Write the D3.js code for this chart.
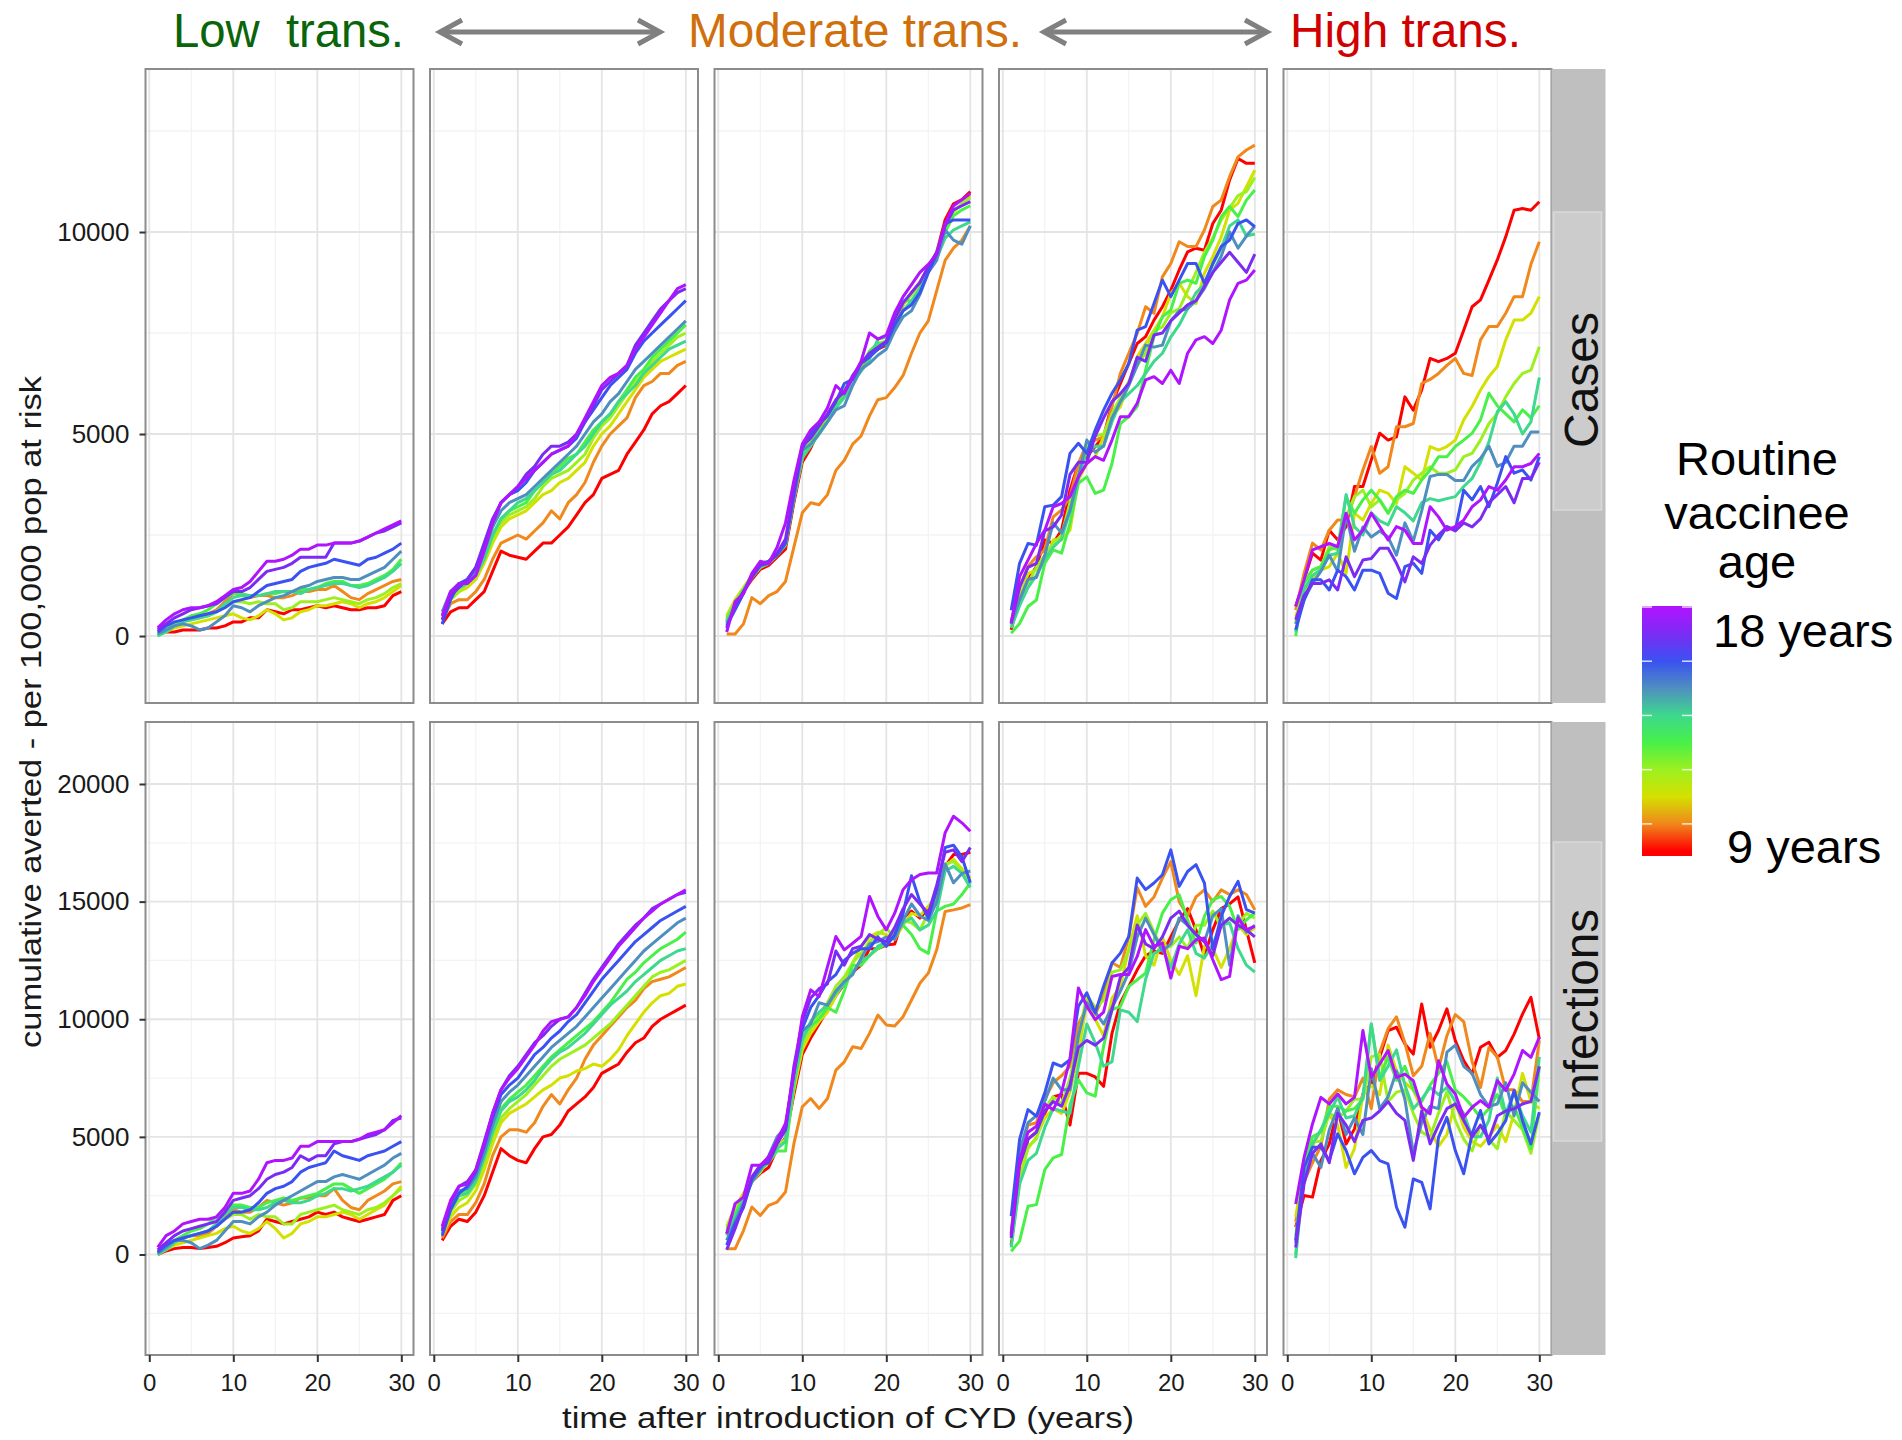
<!DOCTYPE html>
<html>
<head>
<meta charset="utf-8">
<script src="https://cdn.jsdelivr.net/npm/d3@7"></script>
<style>
  body { margin: 0; background: #fff; }
  svg { display: block; }
  text { font-family: "Liberation Sans", Arial, Helvetica, sans-serif; }
</style>
</head>
<body>
<svg id="chart" width="1902" height="1440"></svg>
<script>
// ---------------------------------------------------------------
// Cumulative cases / infections averted per 100,000 population at
// risk, by transmission setting and routine vaccinee age (9-18).
// ---------------------------------------------------------------

const years = [1,2,3,4,5,6,7,8,9,10,11,12,13,14,15,16,17,18,19,20,21,22,23,24,25,26,27,28,29,30];
const ages = [9,10,11,12,13,14,15,16,17,18];
const ageColors = ["#ff0000","#f0881c","#d4e000","#9cf020","#48f048","#3ed88e","#4f8fbf","#3a52f2","#7a2cf4","#b014ff"];
const transLabels = ["Low  trans.","Moderate trans.","High trans."];
const transColors = ["#0a640a","#d0700c","#d00000"];
const outcomes = ["Cases","Infections"];
const xTicks = [0,10,20,30];
const xMinor = [5,15,25];
const yTicksCases = [0,5000,10000];
const yMinorCases = [2500,7500,12500];
const yTicksInf = [0,5000,10000,15000,20000];
const yMinorInf = [-2500,2500,7500,12500,17500];
const legendTicks = [10,12,14,16,18];
const legendLabels = ["18 years","9 years"];

// Each panel: one series per vaccinee age (9 .. 18), one value per year.
const casesLow = [
  [50,100,100,150,150,150,200,200,250,350,350,450,450,650,600,550,650,650,700,750,700,750,700,650,650,700,700,750,1000,1100],
  [50,150,300,350,450,500,550,650,850,1050,1000,950,1000,1000,950,950,1000,1100,1100,1150,1150,1250,1100,950,900,1050,1150,1250,1350,1400],
  [50,100,200,250,300,350,400,450,500,550,450,400,500,650,550,400,450,600,650,750,750,800,850,800,700,800,850,950,1100,1250],
  [50,150,250,350,400,450,500,600,750,850,850,800,850,800,800,650,700,850,850,850,900,950,900,850,800,900,950,1050,1200,1300],
  [0,150,300,400,500,550,650,800,950,1050,1050,1000,1000,1050,1050,1100,1100,1150,1150,1200,1300,1350,1350,1250,1250,1300,1400,1500,1650,1900],
  [0,100,250,350,400,450,500,600,800,950,1000,1000,1000,1050,1100,1100,1100,1050,1150,1200,1250,1300,1300,1250,1200,1250,1350,1450,1600,1800],
  [50,150,250,300,250,150,200,350,500,750,700,600,750,850,950,1000,1100,1200,1250,1350,1400,1450,1450,1400,1400,1500,1600,1700,1900,2100],
  [100,250,350,400,450,500,550,600,700,850,900,950,1100,1250,1300,1350,1400,1600,1700,1750,1800,1900,1850,1800,1750,1900,1950,2050,2150,2300],
  [150,300,450,550,650,700,750,800,950,1100,1100,1200,1400,1600,1650,1700,1800,1950,1950,1950,1950,2300,2300,2300,2350,2450,2550,2600,2700,2800],
  [200,400,550,650,700,700,750,850,1000,1150,1200,1350,1600,1850,1850,1900,2000,2150,2150,2250,2250,2300,2300,2300,2350,2450,2550,2650,2750,2850]
];
const casesLowMod = [
  [300,600,700,700,900,1100,1600,2100,2000,1950,1900,2100,2300,2300,2500,2700,3000,3300,3500,3900,4000,4100,4500,4800,5100,5500,5700,5800,6000,6200],
  [400,800,900,900,1100,1400,1900,2300,2400,2500,2400,2600,2800,3100,2900,3300,3500,3800,4300,4700,5000,5200,5400,5900,6200,6300,6500,6500,6700,6800],
  [400,900,1100,1200,1400,1800,2300,2700,2900,3000,3100,3300,3500,3600,3800,3900,4100,4300,4700,5000,5200,5500,5800,6100,6400,6600,6800,6900,7000,7100],
  [400,900,1100,1300,1500,1900,2400,2800,3000,3100,3200,3400,3700,3900,4000,4100,4300,4500,4900,5200,5400,5700,6000,6300,6500,6800,7000,7200,7400,7500],
  [500,1000,1200,1300,1500,2000,2500,2900,3100,3200,3300,3600,3800,4000,4200,4400,4500,4800,5100,5300,5500,5800,6100,6400,6600,6900,7100,7300,7500,7700],
  [500,1000,1200,1300,1500,1900,2500,2900,3100,3300,3400,3600,3800,4000,4100,4300,4500,4700,5000,5300,5500,5800,6000,6200,6500,6700,6900,7100,7200,7300],
  [600,1100,1300,1300,1600,2100,2700,3100,3300,3400,3500,3700,3900,4100,4300,4500,4700,5000,5300,5500,5800,6000,6300,6600,6800,7000,7200,7400,7600,7800],
  [300,900,1300,1400,1700,2200,2800,3300,3500,3600,3800,4100,4300,4500,4600,4700,4900,5300,5600,5900,6200,6400,6600,7000,7300,7500,7700,7900,8100,8300],
  [400,1000,1200,1400,1700,2300,2900,3300,3500,3700,4000,4200,4500,4700,4700,4800,5000,5300,5700,6100,6300,6500,6700,7200,7500,7800,8100,8300,8500,8600],
  [500,1100,1300,1300,1500,2100,2800,3300,3500,3700,3900,4100,4300,4500,4600,4700,5000,5400,5800,6200,6400,6500,6700,7100,7400,7700,8000,8300,8600,8700]
];
const casesMod = [
  [350,700,1100,1400,1650,1750,1950,2150,3300,4300,4650,5100,5450,5700,5950,6300,6600,6950,7100,7200,7750,8200,8500,8750,9100,9500,10300,10700,10800,11000],
  [50,50,300,950,800,1000,1100,1350,2200,3050,3300,3250,3500,4100,4350,4750,4950,5450,5850,5900,6150,6450,7000,7500,7800,8550,9300,9600,9800,10150],
  [500,900,1200,1500,1700,1800,2000,2300,3400,4400,4800,5200,5400,5700,6050,6400,6700,6950,7200,7300,7850,8200,8450,8700,9100,9450,10100,10500,10700,10900],
  [450,850,1150,1450,1700,1850,2050,2250,3500,4500,4900,5250,5400,5800,6100,6350,6700,7000,7250,7300,7900,8250,8450,8750,9150,9500,10150,10500,10700,10850],
  [400,800,1150,1500,1750,1850,2000,2300,3450,4450,4750,5100,5300,5650,6050,6400,6700,7050,7250,7200,7900,8300,8300,8550,9050,9350,10000,10400,10550,10650],
  [350,750,1100,1450,1700,1800,2000,2250,3400,4400,4700,5000,5300,5650,5900,6300,6550,6850,7350,7400,7650,8050,8300,8600,9100,9350,9850,10050,10150,10250],
  [300,700,1100,1500,1800,1850,2050,2300,3400,4600,4750,5000,5300,5600,5700,6200,6600,6750,6950,7100,7550,7900,8050,8450,9000,9300,10050,9800,9700,10150],
  [250,650,1050,1500,1750,1850,2000,2300,3500,4650,5000,5250,5450,5800,6250,6350,6750,6900,7100,7250,7700,8050,8200,8500,9000,9450,10200,10300,10300,10300],
  [200,750,1100,1450,1750,1800,2050,2400,3600,4700,4900,5200,5500,5850,6050,6450,6750,7000,7150,7300,7850,8250,8500,8750,9150,9500,10150,10550,10650,10750],
  [100,850,1050,1550,1850,1800,2200,2800,3850,4750,5100,5300,5650,6200,6000,6400,6800,7500,7350,7450,8000,8400,8700,9000,9200,9450,10200,10650,10800,10950]
];
const casesModHigh = [
  [150,970,1390,1720,2380,2290,2620,3610,4270,4440,4690,4930,5760,6250,6750,7240,7410,7820,8150,8560,9060,9510,9600,9550,10210,10540,11290,11820,11700,11700],
  [310,1220,1720,1960,2130,2950,3120,3450,4270,4770,4850,4930,5680,6500,7000,7490,8150,7990,8890,9220,9760,9640,9640,10050,10630,10790,11370,11860,12030,12150],
  [310,970,1550,1630,1800,2380,2380,2620,3860,4270,4440,4930,5430,5680,6250,6910,7240,7570,7900,8480,8730,8400,8230,8980,9390,9880,10540,10710,11120,11530],
  [250,900,1300,1700,2000,2300,2500,3300,4000,4700,4950,5000,5500,5900,6300,6700,7000,7550,7650,8000,8100,8550,9000,9500,9850,10300,10600,10900,11000,11350],
  [70,310,730,890,1800,2130,2050,2790,3780,3940,3530,3610,4270,5260,5430,5680,6580,7410,7900,8070,8730,8810,8730,9390,9800,10380,10630,10380,10790,11040],
  [200,750,1200,1500,1900,2200,2400,3100,3900,4600,4700,4700,5300,5800,6000,6200,6500,6800,7000,7400,7700,8100,8500,8700,9200,9600,10150,10300,9900,9950],
  [300,900,1400,1450,2000,2800,2550,3100,3950,4850,4550,4700,5400,5800,6200,6700,7200,7150,7200,7800,8050,8100,8300,8600,9000,9400,10000,9600,9900,10150],
  [640,1800,2290,2250,3200,3240,3450,4520,4770,4520,5100,5590,6010,6340,6750,7570,7660,8230,8810,8400,8810,9220,9220,8730,9220,9640,9800,10210,10300,10130],
  [350,1200,1700,1800,2600,2700,3000,4000,4300,4300,4950,5400,5800,6000,6250,6900,6800,7450,7500,7800,8000,8200,8300,8650,9000,9250,9500,9250,9000,9450],
  [310,1470,1880,2290,2620,3200,3280,3450,3940,4270,4440,4350,4850,5430,5430,5760,6340,6420,6250,6580,6250,7000,7330,7410,7240,7570,8320,8730,8810,9060]
];
const casesHigh = [
  [730,1390,2050,1880,2620,2380,2710,3700,3700,4360,5020,4850,4930,5920,5590,6090,6870,6790,6870,7000,7570,8150,8320,8810,9310,9880,10540,10580,10540,10750],
  [640,1550,2300,2130,2620,2870,2870,3450,4110,4690,4030,4190,5180,5180,5260,6250,6350,6500,6700,6870,6500,6450,7330,7660,7660,7990,8400,8400,9200,9760],
  [480,1140,1390,1630,1720,2050,1550,3040,2870,3280,3610,3530,3280,4190,4030,3860,4690,4600,4690,4850,5350,5680,6090,6420,6670,7330,7820,7820,7990,8400],
  [310,1390,1630,1720,2210,2130,2950,3450,3610,3200,3370,3040,3370,3530,3860,4030,4190,4030,4030,4110,4440,4520,4850,5260,5510,5920,6250,6500,6580,7160],
  [0,1300,1630,1720,2130,2210,3450,3040,3370,3610,3370,3040,3450,3610,3530,3860,4110,4440,4440,4690,4850,5020,5350,6010,5700,5500,5300,5600,5400,5700],
  [100,1150,1500,1650,2000,2050,3500,2700,2500,3050,2850,2750,3200,3050,2850,3300,3400,3350,3400,3450,3700,3900,4300,4800,5550,5800,5500,5000,5300,6400],
  [300,900,1300,1600,2000,1600,3000,2100,2700,2450,2600,2450,2000,2800,2350,3100,3950,4000,4000,3850,3850,4200,4400,4700,4200,4300,4700,4700,5050,5050],
  [150,890,1390,1390,1140,1630,1470,1140,1630,1630,1550,1060,930,1720,1800,1550,2620,2380,2710,2620,3610,3370,3700,3200,3780,4440,4030,4110,3860,4440],
  [400,1000,1300,1300,1390,1140,1960,1470,1880,1920,2170,2170,1800,1340,1960,1800,2250,2500,2700,2600,2800,2700,2900,3300,3500,3700,3300,3900,3900,4300],
  [730,1390,2130,2210,2290,2210,3040,2380,2620,3040,2710,2380,2710,2620,2290,2290,3200,2950,2620,2710,2870,3200,3370,3700,3610,3860,4190,4190,4270,4520]
];
const infLow = [
  [0,150,250,300,300,250,300,350,500,700,750,800,1000,1500,1400,1300,1400,1500,1600,1800,1700,1800,1600,1500,1400,1500,1600,1700,2300,2500],
  [100,300,600,700,800,800,900,1200,1600,1900,1800,1800,2000,2300,2200,2100,2200,2400,2400,2500,2500,2800,2300,2000,1900,2300,2500,2700,3000,3100],
  [0,200,400,500,600,700,800,900,1100,1200,1000,900,1100,1400,1100,700,900,1300,1400,1600,1600,1700,1800,1700,1500,1700,1900,2100,2500,2900],
  [50,300,500,700,800,900,1000,1200,1500,1700,1700,1500,1700,1600,1600,1300,1300,1700,1800,1900,2000,2100,1900,1800,1700,1900,2000,2200,2500,2800],
  [0,300,600,800,1000,1100,1300,1600,1900,2100,2100,2000,2000,2200,2300,2400,2300,2400,2500,2600,2800,3000,3000,2800,2600,2800,3000,3200,3500,3900],
  [0,200,500,700,800,900,1000,1300,1700,2000,2000,1900,1900,2000,2200,2300,2200,2200,2300,2500,2600,2800,2800,2700,2800,2900,3100,3300,3500,3800],
  [50,300,600,600,500,250,400,600,1000,1400,1400,1300,1600,1800,2100,2300,2500,2700,2900,3100,3100,3300,3400,3300,3200,3400,3600,3800,4100,4300],
  [100,400,600,700,800,900,1000,1200,1500,1800,1800,1900,2200,2600,2800,2900,3100,3500,3700,3800,3900,4400,4200,4100,4000,4200,4300,4400,4600,4800],
  [200,500,800,1000,1100,1200,1300,1400,1800,2300,2400,2500,2800,3200,3400,3500,3700,4200,4000,4200,4200,4700,4800,4800,4900,5000,5100,5300,5700,5800],
  [300,800,1000,1300,1400,1500,1500,1600,2000,2600,2600,2700,3200,3900,4000,4000,4100,4600,4600,4800,4800,4800,4800,4800,4900,5100,5200,5300,5600,5900]
];
const infLowMod = [
  [600,1200,1500,1400,1800,2500,3500,4500,4200,4000,3900,4500,5000,5100,5500,6100,6400,6700,7100,7700,7900,8100,8600,9000,9200,9700,10000,10200,10400,10600],
  [700,1400,1700,1700,2200,3000,4200,5000,5300,5300,5200,5600,6300,6800,6400,7000,7500,8300,8900,9300,9700,10100,10500,10800,11300,11600,11700,11800,12000,12200],
  [800,1600,2000,2200,2700,3600,4700,5600,6000,6200,6400,6700,7000,7200,7500,7600,7800,7900,8100,8000,8300,8700,9300,9800,10300,10700,11000,11100,11400,11500],
  [900,1800,2300,2500,3000,3900,5000,5800,6200,6500,6800,7200,7600,8000,8300,8500,8700,8900,9200,9500,9800,10200,10600,11000,11400,11800,12000,12100,12300,12500],
  [1000,2000,2600,2700,3200,4200,5300,6200,6600,6900,7200,7600,8000,8400,8700,9000,9300,9600,9900,10300,10700,11200,11700,12000,12400,12700,13000,13200,13400,13700],
  [900,1900,2500,2600,3100,4100,5200,6100,6500,6700,7000,7400,7900,8300,8600,8800,9100,9400,9800,10200,10600,10900,11200,11600,11900,12200,12500,12700,12900,13000],
  [1100,2200,2700,2800,3300,4300,5500,6500,6900,7200,7600,8000,8400,8800,9100,9400,9700,10100,10500,10900,11300,11700,12100,12500,12900,13200,13500,13800,14100,14300],
  [800,1900,2600,2900,3500,4600,5800,6800,7200,7500,8000,8500,8800,9200,9500,9900,10200,10700,11200,11700,12100,12500,12900,13300,13600,13900,14200,14400,14600,14800],
  [1000,2200,2900,3100,3600,4800,6000,7000,7600,8000,8500,9000,9300,9700,10000,10100,10500,11100,11700,12200,12700,13200,13600,14000,14300,14700,14900,15100,15300,15400],
  [1200,2300,2900,3000,3600,4700,6000,7000,7500,7900,8400,8900,9500,9900,10000,10100,10500,11000,11600,12100,12600,13100,13500,13900,14300,14600,14900,15100,15300,15500]
];
const infMod = [
  [900,1600,2300,3100,3450,3700,4500,4950,6800,8500,9200,9800,10400,11000,11500,12000,12300,13000,13000,13150,13200,14300,14600,14300,14700,15000,16500,17000,17000,17100],
  [240,240,1020,2020,1660,2090,2230,2660,4710,6280,6630,6210,6630,7840,8190,8830,8760,9400,10180,9760,9710,10110,10820,11530,11960,12950,14580,14650,14730,14870],
  [1200,2000,2600,3200,3700,4000,4700,4800,7000,8700,9400,9900,10300,11000,11600,12400,13100,13500,13700,13600,13400,14000,14500,14400,14800,15200,16500,16800,16400,16000],
  [1100,1900,2500,3100,3500,4000,4600,4900,7100,8900,9600,10200,10700,11400,11800,12400,12800,13300,13600,13900,13400,14200,14100,13800,14500,15200,16600,16700,16300,15900],
  [1000,1700,2400,3100,3600,3900,4400,4400,7200,9300,9700,10000,10500,10300,11200,12300,12300,12700,13000,13200,13700,14000,13600,13000,12800,14600,14800,14900,15300,15800],
  [800,1600,2300,3100,3600,4000,4500,4800,7300,9100,9900,10300,10600,11100,11500,12000,12500,12700,13100,13300,13600,14100,14300,13800,14000,14600,16300,16500,16200,15600],
  [600,1400,2200,3100,3600,4200,5000,5400,7800,9500,9800,10700,10600,11200,11600,11900,12600,13200,13300,13500,13400,14200,14900,14400,14200,15000,16600,15800,16200,16300],
  [400,1300,2000,3200,3700,4100,4800,5300,7700,9600,10500,11000,11600,11900,12500,12800,13000,13000,13500,13100,13600,14500,16100,15000,14300,15500,17300,17400,16900,15800],
  [200,1100,2100,3300,3800,3900,4700,5300,8000,9900,10900,11300,11500,12900,12300,13000,13100,13600,13400,13300,13900,14700,15300,14900,14500,15700,17100,17200,16700,17300],
  [880,2160,2440,3790,3790,4150,4860,5570,7700,10110,11250,10960,12240,13520,12950,13230,13520,15220,14370,13800,14510,15510,15930,16150,16220,16220,17920,18630,18350,17990]
];
const infModHigh = [
  [400,3400,4900,5200,6000,6700,6800,5500,7700,7700,7550,7150,9400,10700,11400,12100,12700,12900,12800,13500,14200,14700,13800,12700,13800,14700,14900,15200,13800,12400],
  [900,4200,5500,5600,6600,7300,7600,8000,9800,10500,10200,11000,12400,12200,13500,15600,14800,15200,16000,16700,15000,14400,15200,15500,15000,15500,15300,15500,15300,14650],
  [800,3500,4500,5000,5800,6200,6000,6900,8500,10800,10000,9300,10900,11400,13000,14400,12700,12300,13500,12500,11900,12700,11000,13100,13000,12200,13000,14000,13600,13900],
  [600,3000,4600,4900,6200,6700,6400,7500,9200,11000,10500,10800,12000,12100,12900,14000,14500,13700,13000,13100,13500,13000,14000,14000,14600,13900,14300,14000,14500,14300],
  [140,570,2050,2120,3610,4110,4250,6370,7430,6870,6730,8850,10410,10550,11400,11680,11960,13380,14510,15080,15290,14230,13240,14370,15080,15220,14800,13810,14230,14510],
  [300,3000,4000,4300,5400,6200,6100,6000,8000,9800,9000,8000,8200,10400,10300,9900,11700,12800,13000,12200,13200,13800,12800,12600,13200,14000,14100,13000,12300,12000],
  [900,4400,5600,5900,6500,7500,7000,7000,9300,10700,10300,9800,10500,11200,12000,13500,14300,13600,12900,13200,14300,14000,13600,13300,14400,14700,12300,14400,13700,14000],
  [1630,4890,6160,5880,6870,8140,8000,8280,10550,11120,10270,11400,12390,12810,13520,16000,15510,15790,16140,17200,15650,16280,16570,15790,12960,14370,15220,15860,14660,14510],
  [700,3800,4900,5200,6100,6500,6300,7200,8800,9100,8900,9200,10400,11800,12200,14000,13200,13000,13500,14300,14600,14000,13600,13300,12700,14000,14300,14000,13800,13500],
  [800,4000,5200,5450,6400,6150,6900,8300,11330,10550,9980,10300,11820,11900,11900,12670,13810,13100,13240,11750,13100,13000,13380,13450,12530,11680,11820,14300,13810,13950]
];
const infHigh = [
  [1160,2510,2440,3990,4700,6190,4700,5340,6830,7250,8380,9520,9660,8950,8520,10650,8810,9520,10440,9090,8240,7670,8810,9020,8380,8670,9370,10220,10930,9160],
  [1400,3100,3900,4600,6600,7000,6800,6700,7500,6200,8600,9600,10100,9000,7600,8000,9400,7900,9300,10200,9900,8200,7100,8800,8400,7000,7000,6500,6500,9100],
  [1600,3700,4600,5300,5900,5500,3700,4500,6800,7200,6800,8900,7800,7300,7000,6200,5300,4600,5100,6500,5400,4800,4600,5000,5500,4800,6000,7700,6500,6200],
  [800,3600,4800,4800,6000,5800,6100,6600,6600,8400,8500,6500,6900,7000,6000,5200,5000,6000,6900,5700,4900,4400,5500,4900,4500,6100,5700,5300,4300,6000],
  [0,4000,5000,5200,6300,6300,6100,6200,6600,9800,7500,8400,7400,8000,7000,6500,7200,7700,8200,7000,6700,6300,5800,6200,6800,5900,6300,5400,4500,8000],
  [-150,3500,4700,5300,6000,6700,5800,5900,6700,9800,7400,8000,8700,7200,6200,6600,7100,6800,7100,6500,6000,5000,5000,5700,7500,6000,6900,5900,5200,8400],
  [500,3200,4300,3700,5300,6200,5100,5800,5100,7900,6200,6700,7800,6600,4300,5600,6300,6200,8600,8900,8000,7700,6800,6300,6400,7300,5900,7300,6900,6500],
  [600,3710,4560,4560,3990,5130,4420,3430,4130,4420,3990,3850,2010,1160,3210,3070,1940,4980,5830,4420,3430,5130,6120,4700,5130,5690,6970,5690,4700,6050],
  [300,3000,4300,4700,3900,6000,5500,4800,5700,5800,6100,6500,6000,5700,4000,6100,4700,5500,6200,6400,5700,5000,5500,4900,5900,6100,6200,6400,6500,8000],
  [2150,4130,5550,6680,6400,6820,6400,6680,9520,7530,8100,8670,7530,7670,7390,6260,5980,8240,7250,6820,5830,6260,6540,6260,7390,6970,7670,8670,8380,9230]
];

// ---------------------------------------------------------------
const W = 1902, H = 1440;
const svg = d3.select("#chart");
svg.append("rect").attr("width", W).attr("height", H).attr("fill", "#fff");

const panelLeft0 = 145.5, panelW = 268, panelStep = 284.5;
const xDomain = [-0.45, 31.45];
const rowsCfg = [
  { outcome: outcomes[0], top: 69, bottom: 703, domain: [-1658, 14035], ticks: yTicksCases, minor: yMinorCases,
    panels: [casesLow, casesLowMod, casesMod, casesModHigh, casesHigh], box: [212, 510], labelY: 380 },
  { outcome: outcomes[1], top: 722, bottom: 1355, domain: [-4272, 22635], ticks: yTicksInf, minor: yMinorInf,
    panels: [infLow, infLowMod, infMod, infModHigh, infHigh], box: [842, 1141], labelY: 1011 }
];

const ageColor = d3.scaleLinear().domain(ages).range(ageColors).interpolate(d3.interpolateRgb);
const defs = svg.append("defs");

rowsCfg.forEach((row, r) => {
  const y = d3.scaleLinear().domain(row.domain).range([row.bottom, row.top]);
  row.panels.forEach((series, c) => {
    const L = panelLeft0 + c * panelStep;
    const x = d3.scaleLinear().domain(xDomain).range([L, L + panelW]);
    const g = svg.append("g");
    const clipId = `clip-${r}-${c}`;
    defs.append("clipPath").attr("id", clipId)
      .append("rect").attr("x", L).attr("y", row.top).attr("width", panelW).attr("height", row.bottom - row.top);

    g.append("rect").attr("x", L).attr("y", row.top).attr("width", panelW)
      .attr("height", row.bottom - row.top).attr("fill", "#fff");

    // minor grid
    g.selectAll(".vminor").data(xMinor).join("line")
      .attr("x1", d => x(d)).attr("x2", d => x(d)).attr("y1", row.top).attr("y2", row.bottom)
      .attr("stroke", "#f3f3f3").attr("stroke-width", 1.3);
    g.selectAll(".hminor").data(row.minor).join("line")
      .attr("x1", L).attr("x2", L + panelW).attr("y1", d => y(d)).attr("y2", d => y(d))
      .attr("stroke", "#f3f3f3").attr("stroke-width", 1.3);
    // major grid
    g.selectAll(".vmajor").data(xTicks).join("line")
      .attr("x1", d => x(d)).attr("x2", d => x(d)).attr("y1", row.top).attr("y2", row.bottom)
      .attr("stroke", "#e4e4e4").attr("stroke-width", 1.8);
    g.selectAll(".hmajor").data(row.ticks).join("line")
      .attr("x1", L).attr("x2", L + panelW).attr("y1", d => y(d)).attr("y2", d => y(d))
      .attr("stroke", "#e4e4e4").attr("stroke-width", 1.8);

    // series lines, age 9 drawn first
    const line = d3.line().x((d, i) => x(years[i])).y(d => y(d));
    g.append("g").attr("clip-path", `url(#${clipId})`)
      .selectAll("path").data(series).join("path")
      .attr("d", d => line(d))
      .attr("fill", "none")
      .attr("stroke", (d, i) => ageColor(ages[i]))
      .attr("stroke-width", 3)
      .attr("stroke-linejoin", "round");

    // panel border
    g.append("rect").attr("x", L).attr("y", row.top).attr("width", panelW)
      .attr("height", row.bottom - row.top).attr("fill", "none")
      .attr("stroke", "#8c8c8c").attr("stroke-width", 2);

    // left axis on the first column
    if (c === 0) {
      const ax = svg.append("g").attr("transform", `translate(${L},0)`)
        .call(d3.axisLeft(y).tickValues(row.ticks).tickSize(6).tickPadding(10).tickFormat(d3.format("d")));
      ax.select(".domain").remove();
      ax.selectAll(".tick line").attr("stroke", "#333").attr("stroke-width", 2);
      ax.selectAll(".tick text").attr("font-size", 26).attr("fill", "#1a1a1a")
        .attr("font-family", "Liberation Sans, Arial, sans-serif");
    }
    // bottom axis on the last row
    if (r === rowsCfg.length - 1) {
      const ax = svg.append("g").attr("transform", `translate(0,${row.bottom})`)
        .call(d3.axisBottom(x).tickValues(xTicks).tickSize(7).tickPadding(12));
      ax.select(".domain").remove();
      ax.selectAll(".tick line").attr("stroke", "#333").attr("stroke-width", 2);
      ax.selectAll(".tick text").attr("font-size", 24).attr("fill", "#1a1a1a")
        .attr("font-family", "Liberation Sans, Arial, sans-serif");
    }
  });

  // right-hand row strip
  const sx = panelLeft0 + 4 * panelStep + panelW;
  svg.append("rect").attr("x", sx).attr("y", row.top).attr("width", 54)
    .attr("height", row.bottom - row.top).attr("fill", "#bfbfbf");
  svg.append("rect").attr("x", sx + 2).attr("y", row.box[0]).attr("width", 48)
    .attr("height", row.box[1] - row.box[0]).attr("fill", "#cccccc")
    .attr("stroke", "#d9d9d9").attr("stroke-width", 1.5);
  svg.append("text")
    .attr("transform", `translate(${sx + 46},${row.labelY}) rotate(-90)`)
    .attr("text-anchor", "middle").attr("font-size", 48).attr("fill", "#111")
    .attr("textLength", r === 0 ? 136 : 204).attr("lengthAdjust", "spacingAndGlyphs")
    .text(row.outcome);
});

// axis titles
svg.append("text")
  .attr("transform", "translate(41,712) rotate(-90)")
  .attr("text-anchor", "middle").attr("font-size", 29).attr("fill", "#1a1a1a")
  .attr("textLength", 672).attr("lengthAdjust", "spacingAndGlyphs")
  .text("cumulative averted - per 100,000 pop at risk");
svg.append("text")
  .attr("x", 848).attr("y", 1428)
  .attr("text-anchor", "middle").attr("font-size", 29).attr("fill", "#1a1a1a")
  .attr("textLength", 572).attr("lengthAdjust", "spacingAndGlyphs")
  .text("time after introduction of CYD (years)");

// transmission header with double-headed arrows
const headerX = [[173, 231], [688, 334], [1290, 231]];
transLabels.forEach((t, i) => {
  svg.append("text").attr("x", headerX[i][0]).attr("y", 47)
    .attr("font-size", 48).attr("fill", transColors[i])
    .attr("textLength", headerX[i][1]).attr("lengthAdjust", "spacingAndGlyphs")
    .style("white-space", "pre").attr("xml:space", "preserve")
    .text(t);
});
const arrows = [[440, 660], [1044, 1267]];
const arrowG = svg.append("g").attr("stroke", "#808080").attr("stroke-width", 5)
  .attr("fill", "none").attr("stroke-linecap", "butt").attr("stroke-linejoin", "miter");
arrows.forEach(([a, b]) => {
  const yA = 32, dx = 22, dy = 12;
  arrowG.append("line").attr("x1", a + 2).attr("x2", b - 2).attr("y1", yA).attr("y2", yA);
  arrowG.append("path").attr("d", `M${a + dx},${yA - dy} L${a},${yA} L${a + dx},${yA + dy}`);
  arrowG.append("path").attr("d", `M${b - dx},${yA - dy} L${b},${yA} L${b - dx},${yA + dy}`);
});

// colour legend
const legendTitle = ["Routine", "vaccinee", "age"];
const legendTitleY = [475, 529, 578];
legendTitle.forEach((t, i) => {
  svg.append("text").attr("x", 1757).attr("y", legendTitleY[i])
    .attr("text-anchor", "middle").attr("font-size", 47).attr("fill", "#000").text(t);
});
const barX = 1642, barW = 50, barTop = 606, barBottom = 856;
const yLeg = d3.scaleLinear().domain([9, 18]).range([851, 607]);
const grad = defs.append("linearGradient").attr("id", "ageGrad")
  .attr("gradientUnits", "userSpaceOnUse")
  .attr("x1", 0).attr("x2", 0).attr("y1", yLeg(18)).attr("y2", yLeg(9));
ages.slice().reverse().forEach(a => {
  grad.append("stop").attr("offset", (yLeg(a) - yLeg(18)) / (yLeg(9) - yLeg(18)))
    .attr("stop-color", ageColor(a));
});
svg.append("rect").attr("x", barX).attr("y", barTop).attr("width", barW)
  .attr("height", barBottom - barTop).attr("fill", "url(#ageGrad)");
legendTicks.forEach(a => {
  [[barX, barX + 10], [barX + barW - 10, barX + barW]].forEach(([x1, x2]) => {
    svg.append("line").attr("x1", x1).attr("x2", x2).attr("y1", yLeg(a)).attr("y2", yLeg(a))
      .attr("stroke", "#fff").attr("stroke-width", 1.5).attr("opacity", 0.8);
  });
});
svg.append("text").attr("x", 1713).attr("y", 647).attr("font-size", 47).attr("fill", "#000").text(legendLabels[0]);
svg.append("text").attr("x", 1727).attr("y", 863).attr("font-size", 47).attr("fill", "#000").text(legendLabels[1]);
</script>
</body>
</html>
